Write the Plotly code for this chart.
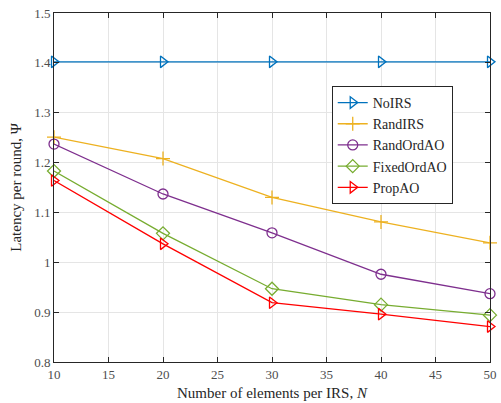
import plotly.graph_objects as go

N = [10, 20, 30, 40, 50]
no_irs = [1.402, 1.402, 1.402, 1.402, 1.402]
rand_irs = [1.251, 1.208, 1.130, 1.081, 1.039]
rand_ord_ao = [1.237, 1.137, 1.059, 0.976, 0.937]
fixed_ord_ao = [1.183, 1.058, 0.947, 0.915, 0.894]
prop_ao = [1.164, 1.037, 0.919, 0.896, 0.871]

x_ticks = [10, 15, 20, 25, 30, 35, 40, 45, 50]
y_ticks = [0.8, 0.9, 1.0, 1.1, 1.2, 1.3, 1.4, 1.5]
y_ticktext = ["0.8", "0.9", "1", "1.1", "1.2", "1.3", "1.4", "1.5"]

series = [
    ("NoIRS", no_irs, "#0072BD", "triangle-right-open"),
    ("RandIRS", rand_irs, "#EDB120", "cross-thin-open"),
    ("RandOrdAO", rand_ord_ao, "#7E2F8E", "circle-open"),
    ("FixedOrdAO", fixed_ord_ao, "#77AC30", "diamond-open"),
    ("PropAO", prop_ao, "#FF0000", "triangle-right-open"),
]

fig = go.Figure()
for name, ys, color, sym in series:
    fig.add_trace(go.Scatter(
        x=N, y=ys, name=name, mode="lines+markers",
        line=dict(color=color, width=1.3),
        marker=dict(symbol=sym, size=10, color=color, line=dict(color=color, width=1.3)),
        cliponaxis=False,
    ))

font = "Liberation Serif, DejaVu Serif, serif"
axis_common = dict(
    showline=True, linecolor="#262626", linewidth=1, mirror="ticks",
    ticks="inside", ticklen=5, tickcolor="#262626",
    showgrid=True, gridcolor="#E5E5E5", gridwidth=1, zeroline=False,
    tickfont=dict(family=font, size=13, color="#4D4D4D"),
    ticklabeloverflow="allow",
)

fig.update_layout(
    width=501, height=403,
    margin=dict(l=54, r=4, t=13, b=41),
    paper_bgcolor="white", plot_bgcolor="white",
    font=dict(family=font, color="#262626"),
    showlegend=True,
    legend=dict(
        x=0.637, y=0.791, xanchor="left", yanchor="top",
        bgcolor="white", bordercolor="#262626", borderwidth=1,
        font=dict(family=font, size=14, color="#262626"),
        tracegroupgap=0,
    ),
    xaxis=dict(
        range=[10, 50], tickvals=x_ticks,
        title=dict(text="Number of elements per IRS, <i>N</i>", font=dict(family=font, size=15, color="#262626"), standoff=6),
        **axis_common,
    ),
    yaxis=dict(
        range=[0.8, 1.5], tickvals=y_ticks, ticktext=y_ticktext,
        title=dict(text="Latency per round, Ψ", font=dict(family=font, size=15, color="#262626"), standoff=8),
        **axis_common,
    ),
)

fig.write_html(
    "out.html",
    config={"displayModeBar": False},
    post_script="document.body.style.margin='0';document.body.style.overflow='hidden';",
)
